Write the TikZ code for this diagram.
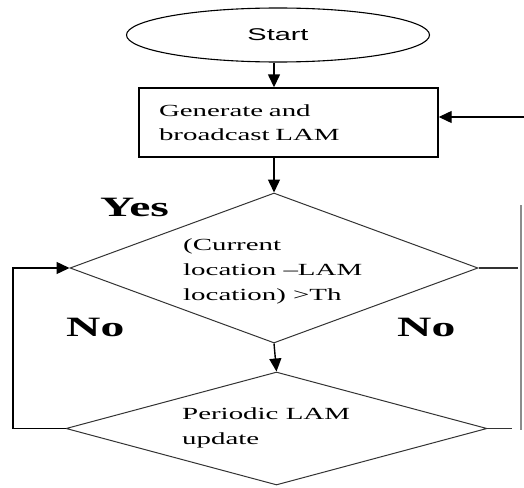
\documentclass[tikz,border=0pt]{standalone}
\usepackage{fontspec}
\setmainfont{Liberation Serif}
\newfontfamily\chartfont[FakeStretch=1.7]{Liberation Serif}
\newfontfamily\startfont[FakeStretch=1.7]{Liberation Sans}
\usetikzlibrary{arrows.meta}
\usetikzlibrary{shapes.geometric}

\begin{document}
\begin{tikzpicture}[x=1pt,y=-1pt,
  arr/.style={-{Triangle[length=13pt,width=12pt]},line width=1.4pt},
  line/.style={line width=1.2pt},
  startoval/.style={draw,ellipse,line width=1.1pt,minimum width=303pt,minimum height=54pt,inner sep=0pt,
    font=\startfont\fontsize{17}{25}\selectfont},
  procbox/.style={draw,line width=1.4pt,minimum height=69pt,inner xsep=20pt,text width=259pt,align=left,
    font=\chartfont\fontsize{17}{24}\selectfont},
  decision/.style={draw=black!80,diamond,line width=1pt,inner sep=0pt},
  textblk/.style={anchor=west,align=left,inner sep=0pt,font=\chartfont\fontsize{17}{25}\selectfont},
  answer/.style={anchor=base west,inner sep=0pt,font=\chartfont\bfseries\fontsize{28}{30}\selectfont}]
  \useasboundingbox (0,0) rectangle (524,487);

  % boxes
  \node[startoval] (start) at (278,35) {Start};
  \node[procbox] (gen) at (288.5,122.5) {Generate and\\broadcast LAM};
  \node[decision,minimum width=408pt,minimum height=150pt] (chk) at (274,268) {};
  \node[textblk] (chktext) at (183,271) {(Current\\location –LAM\\location) >Th};
  \node[decision,minimum width=421pt,minimum height=113pt] (upd) at (276.5,428.5) {};
  \node[textblk] (updtext) at (182,427.5) {Periodic LAM\\update};

  % answers
  \node[answer] (yes) at (100,216) {Yes};
  \node[answer] (noL) at (66,336) {No};
  \node[answer] (noR) at (397,336) {No};

  % main flow
  \draw[arr] (chk.north |- start.south) -- (chk.north |- gen.north);
  \draw[arr] (chk.north |- gen.south) -- (chk.north);
  \draw[arr] (chk.south) -- (upd.north);

  % left loop
  \coordinate (loopL) at (13,428.5);
  \draw[arr] (upd.west) -- (loopL) |- (chk.west);

  % right side
  \coordinate (chkR) at (518,268);
  \coordinate (updR) at (512,428.5);
  \coordinate (sideT) at (521,205);
  \coordinate (sideB) at (521,430);
  \coordinate (backIn) at (524,117);
  \draw[line,black!80] (chk.east) -- (chkR);
  \draw[line,black!80] (upd.east) -- (updR);
  \draw[line,black!45] (sideT) -- (sideB);
  \draw[arr,line width=1.2pt] (backIn) -- (gen.east |- backIn);
\end{tikzpicture}
\end{document}
